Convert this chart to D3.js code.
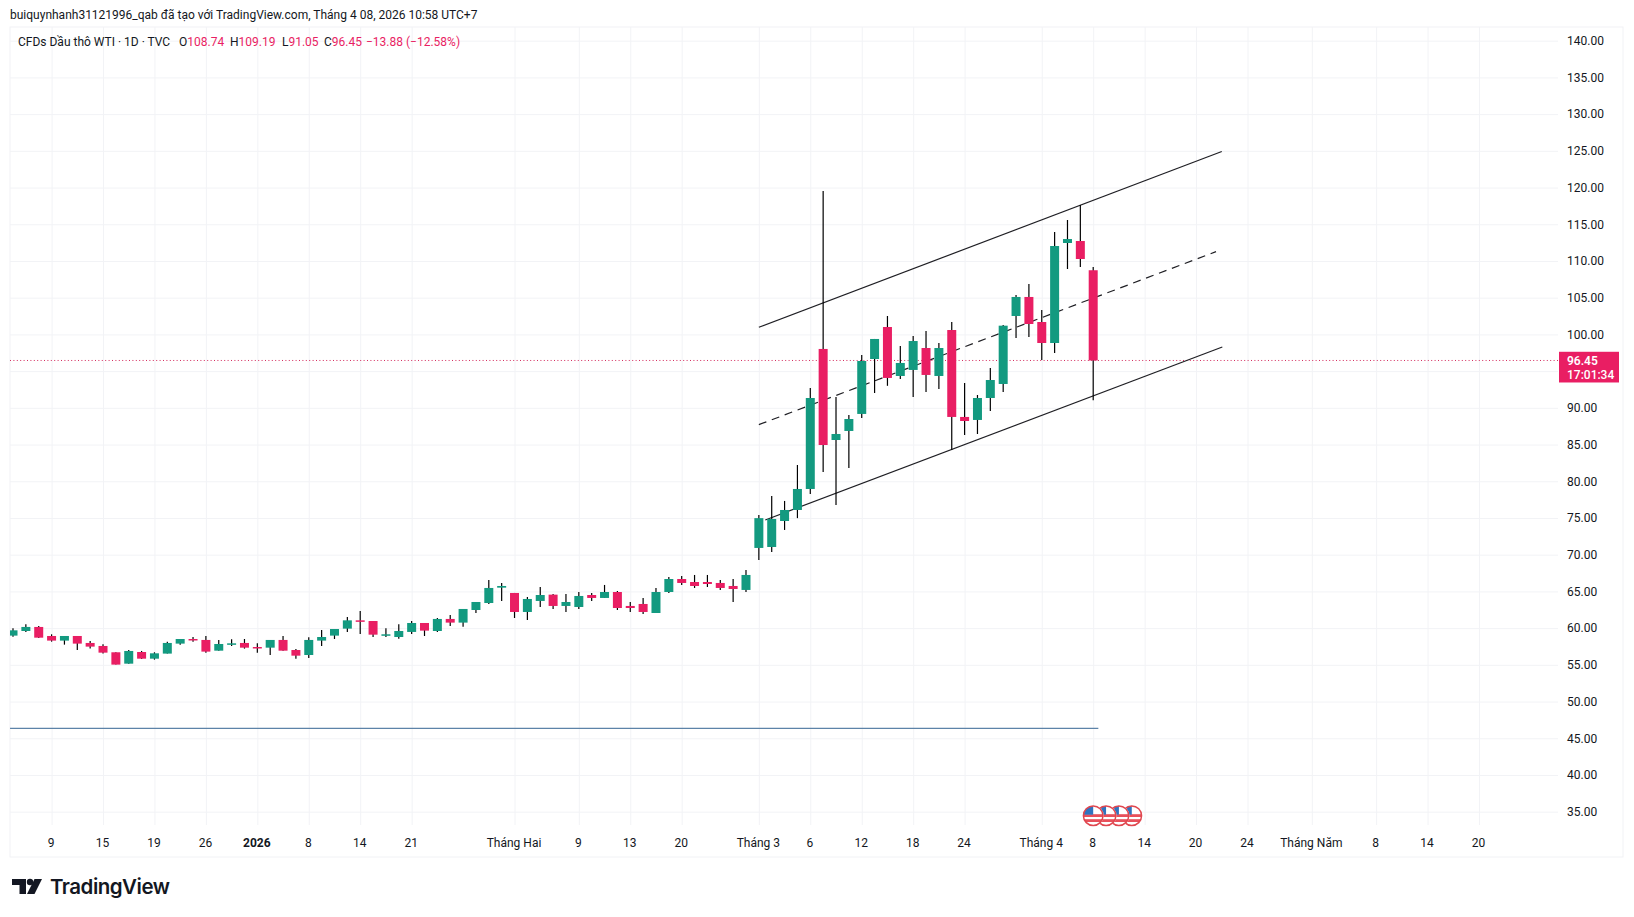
<!DOCTYPE html>
<html>
<head>
<meta charset="utf-8">
<script src="https://d3js.org/d3.v7.min.js"></script>
<style>
    html, body { margin: 0; padding: 0; background: #fff; }
    svg { display: block; font-family: Roboto, sans-serif; }
    .axis path, .axis line { display: none; }
    .axis text { fill: #131722; font-size: 12px; font-family: Roboto, sans-serif; }
    .grid path { display: none; }
    .grid text { display: none; }
    .grid line { stroke: #f2f3f6; stroke-width: 1; }
</style>
</head>
<body>
<div id="chart"></div>
<script>
// Daily candles, oldest first. Index 0 is the first visible bar.
const opens = [58.98, 59.61, 60.16, 58.93, 58.30, 58.93, 57.98, 57.57, 56.71, 55.16, 56.75, 55.84, 56.53, 57.89, 58.52, 58.39, 56.93, 57.84, 57.98, 57.43, 57.34, 58.39, 57.02, 56.34, 58.30, 58.98, 59.93, 61.06, 60.97, 59.07, 58.79, 59.48, 60.70, 59.61, 61.25, 60.75, 62.47, 63.42, 65.51, 64.79, 62.20, 63.70, 64.56, 63.02, 62.88, 64.51, 64.11, 64.92, 63.02, 63.29, 62.06, 64.92, 66.69, 66.28, 66.28, 66.15, 65.74, 65.20, 70.92, 71.05, 74.59, 76.09, 78.95, 98.02, 85.62, 86.85, 89.17, 96.65, 101.01, 94.34, 95.16, 98.15, 94.34, 100.60, 88.76, 88.35, 91.34, 93.25, 102.51, 105.10, 101.69, 98.83, 112.45, 112.72, 108.74];
const highs = [59.97, 60.52, 60.29, 59.16, 58.93, 58.93, 58.25, 57.80, 56.71, 57.02, 56.89, 56.71, 58.16, 58.52, 58.79, 58.93, 58.39, 58.48, 58.52, 57.93, 58.39, 58.93, 57.16, 58.75, 59.75, 59.88, 61.52, 62.34, 60.97, 59.97, 60.52, 60.97, 60.70, 61.38, 61.79, 62.61, 63.56, 66.56, 66.15, 64.79, 64.24, 65.60, 64.65, 64.65, 64.92, 64.79, 65.88, 65.06, 63.56, 64.11, 65.47, 66.97, 67.10, 67.24, 67.24, 66.56, 66.69, 67.92, 75.41, 78.00, 77.32, 82.22, 92.71, 119.53, 91.48, 89.03, 97.20, 99.38, 102.51, 98.42, 99.79, 100.47, 98.83, 101.69, 93.39, 91.75, 95.43, 101.28, 105.37, 106.87, 103.33, 113.95, 115.58, 117.62, 109.19];
const lows = [58.84, 59.48, 58.65, 58.16, 57.75, 57.02, 57.21, 56.53, 55.03, 55.16, 55.80, 55.71, 56.53, 57.75, 58.16, 56.66, 56.93, 57.57, 57.21, 56.66, 56.34, 56.93, 55.84, 55.94, 57.57, 58.52, 59.48, 59.20, 58.79, 58.79, 58.57, 59.20, 58.93, 59.48, 60.29, 60.20, 62.06, 63.29, 63.70, 61.38, 61.11, 62.88, 62.61, 62.20, 62.61, 63.70, 64.11, 62.47, 62.20, 61.93, 62.06, 64.79, 65.88, 65.47, 65.60, 65.20, 63.56, 64.92, 69.28, 70.37, 73.37, 74.98, 78.27, 81.27, 76.77, 81.81, 88.62, 92.02, 93.00, 93.93, 91.48, 92.16, 92.57, 84.26, 86.30, 86.44, 89.57, 92.16, 99.51, 99.65, 96.52, 97.47, 108.91, 109.18, 91.05];
const closes = [59.70, 60.16, 58.70, 58.30, 58.93, 57.89, 57.48, 56.66, 55.03, 56.89, 55.84, 56.57, 57.98, 58.52, 58.39, 56.80, 57.84, 57.93, 57.34, 57.34, 58.39, 56.93, 56.25, 58.39, 58.79, 59.88, 61.06, 60.97, 59.11, 59.16, 59.61, 60.70, 59.66, 61.25, 60.75, 62.61, 63.56, 65.47, 65.74, 62.20, 63.97, 64.51, 63.02, 63.56, 64.38, 64.11, 64.92, 62.74, 62.74, 62.20, 64.92, 66.69, 66.15, 65.74, 66.01, 65.47, 65.33, 67.24, 74.98, 74.87, 76.09, 78.95, 91.34, 84.94, 86.44, 88.48, 96.38, 99.38, 94.07, 96.11, 99.10, 94.48, 98.15, 88.76, 88.21, 91.34, 93.79, 101.19, 105.10, 101.42, 98.83, 112.04, 112.99, 110.27, 96.45];

// Axis ticks
const priceTicks = [35, 40, 45, 50, 55, 60, 65, 70, 75, 80, 85, 90, 95, 100, 105, 110, 115, 120, 125, 130, 135, 140];
const dateTickBars = [3, 7, 11, 15, 19, 23, 27, 31, 39, 44, 48, 52, 58, 62, 66, 70, 74, 80, 84, 88, 92, 96, 101, 106, 110, 114];
const dateTickLabels = ['9', '15', '19', '26', '2026', '8', '14', '21', 'Tháng Hai', '9', '13', '20', 'Tháng 3', '6', '12', '18', '24', 'Tháng 4', '8', '14', '20', '24', 'Tháng Năm', '8', '14', '20'];

// Drawings, as [bar, price] pairs
const channelUpper = [[58, 100.97], [94, 124.91]];
const channelMiddle = [[58, 87.71], [93.55, 111.27]];
const channelLower = [[58.5, 74.73], [94.04, 98.29]];
const supportLine = [[-0.23, 46.36], [84.4, 46.36]];

// Economic event flags sit on these bars
const eventBars = [84, 85, 86, 87];

// Header and legend text
const headerText = 'buiquynhanh31121996_qab đã tạo với TradingView.com, Tháng 4 08, 2026 10:58 UTC+7';
const symbolText = 'CFDs Dầu thô WTI · 1D · TVC';
const ohlcLetters = ['O', 'H', 'L', 'C'];
const ohlcValues = ['108.74', '109.19', '91.05', '96.45'];
const changeText = '−13.88 (−12.58%)';
const countdownText = '17:01:34';

class CandleChart {

    // Palette
    upColor = '#139a80';
    downColor = '#e91e63';
    textColor = '#131722';

    constructor(container) {
        this.width = 1634;
        this.height = 917;

        this.svg = d3.select(container).append('svg')
            .attr('width', this.width)
            .attr('height', this.height);

        // Bar index and price to pixels, bar 0 is at x = 13
        this.scaleX = d3.scaleLinear([0, 84], [13, 1093.2]);
        this.scaleY = d3.scaleLinear([35, 140], [811.7, 40.7]);

        this.frame = { left: 10, right: 1623, top: 27, bottom: 857, plotRight: 1558, gridBottom: 825 };
    }

    render() {
        this.#drawFrame();
        this.#drawGrid();
        this.#drawPriceLine();
        this.#drawDrawings();
        this.#drawCandles();
        this.#drawAxes();
        this.#drawFlags();
        this.#drawLegend();
        this.#drawLogo();
        return this;
    }

    #drawFrame() {
        const f = this.frame;
        this.svg.append('rect')
            .attr('x', f.left)
            .attr('y', f.top)
            .attr('width', f.right - f.left)
            .attr('height', f.bottom - f.top)
            .attr('fill', '#fff')
            .attr('stroke', '#f1f2f5');

        // Bars are cut off at the left edge of the pane
        const defs = this.svg.append('defs');
        defs.append('clipPath')
            .attr('id', 'pane-clip')
            .append('rect')
            .attr('x', f.left)
            .attr('y', f.top)
            .attr('width', f.plotRight - f.left)
            .attr('height', f.bottom - f.top);

        defs.append('clipPath')
            .attr('id', 'flag-clip')
            .append('circle')
            .attr('r', 10);
    }

    // Grid lines come from axes with full-length ticks
    #drawGrid() {
        const f = this.frame;
        this.svg.append('g')
            .attr('class', 'grid')
            .attr('transform', `translate(${f.left},0)`)
            .call(d3.axisRight(this.scaleY).tickValues(priceTicks).tickSize(f.plotRight - f.left));

        this.svg.append('g')
            .attr('class', 'grid')
            .attr('transform', `translate(0,${f.top})`)
            .call(d3.axisBottom(this.scaleX).tickValues(dateTickBars).tickSize(f.gridBottom - f.top));
    }

    #drawPriceLine() {
        const y = this.scaleY(closes[closes.length - 1]);
        this.svg.append('line')
            .attr('x1', this.frame.left)
            .attr('x2', this.frame.plotRight)
            .attr('y1', y)
            .attr('y2', y)
            .attr('stroke', '#d42a5c')
            .attr('stroke-width', 1)
            .attr('stroke-dasharray', '1 2.4');
    }

    // Trend channel and the long horizontal line
    #drawDrawings() {
        const line = d3.line()
            .x(d => this.scaleX(d[0]))
            .y(d => this.scaleY(d[1]));

        this.svg.append('path')
            .attr('d', line(supportLine))
            .attr('fill', 'none')
            .attr('stroke', '#5d83a8')
            .attr('stroke-width', 1.2);

        [channelUpper, channelLower, channelMiddle].forEach(points => {
            this.svg.append('path')
                .attr('d', line(points))
                .attr('fill', 'none')
                .attr('stroke', '#1f1f24')
                .attr('stroke-width', 1.2)
                .attr('stroke-dasharray', points === channelMiddle ? '8 5.8' : null);
        });
    }

    #drawCandles() {
        const candles = d3.range(opens.length).map(i => ({
            i, open: opens[i], high: highs[i], low: lows[i], close: closes[i]
        }));
        const bodyWidth = 9;
        const colorOf = d => d.close >= d.open ? this.upColor : this.downColor;

        const g = this.svg.append('g')
            .attr('clip-path', 'url(#pane-clip)')
            .selectAll('g')
            .data(candles)
            .join('g');

        g.append('line')
            .attr('x1', d => this.scaleX(d.i))
            .attr('x2', d => this.scaleX(d.i))
            .attr('y1', d => this.scaleY(d.high))
            .attr('y2', d => this.scaleY(d.low))
            .attr('stroke', '#000')
            .attr('stroke-width', 1.2);

        g.append('rect')
            .attr('x', d => this.scaleX(d.i) - bodyWidth / 2)
            .attr('y', d => this.scaleY(Math.max(d.open, d.close)))
            .attr('width', bodyWidth)
            .attr('height', d => Math.max(1.5, Math.abs(this.scaleY(d.open) - this.scaleY(d.close))))
            .attr('fill', colorOf);
    }

    #drawAxes() {
        const axisY = d3.axisRight(this.scaleY)
            .tickValues(priceTicks.filter(p => p !== 95))
            .tickFormat(d3.format('.2f'));

        this.svg.append('g')
            .attr('class', 'axis')
            .attr('transform', 'translate(1567,0)')
            .call(axisY)
            .call(g => g.selectAll('text').attr('x', 0));

        const axisX = d3.axisBottom(this.scaleX)
            .tickValues(dateTickBars)
            .tickFormat(d => dateTickLabels[dateTickBars.indexOf(d)]);

        this.svg.append('g')
            .attr('class', 'axis')
            .attr('transform', 'translate(-1,838)')
            .call(axisX)
            .call(g => g.selectAll('text').attr('y', 0)
                .style('font-weight', d => dateTickLabels[dateTickBars.indexOf(d)] === '2026' ? 700 : 400));

        // Last price tag on the scale
        const tagY = this.scaleY(closes[closes.length - 1]);
        this.svg.append('rect')
            .attr('x', 1559)
            .attr('y', tagY - 8.7)
            .attr('width', 60)
            .attr('height', 30.7)
            .attr('fill', this.downColor);

        this.svg.append('text')
            .attr('x', 1567)
            .attr('y', tagY + 5)
            .attr('fill', '#fff')
            .attr('font-size', 12)
            .attr('font-weight', 600)
            .text(d3.format('.2f')(closes[closes.length - 1]));

        this.svg.append('text')
            .attr('x', 1567)
            .attr('y', tagY + 19)
            .attr('fill', '#fff')
            .attr('font-size', 12)
            .attr('font-weight', 500)
            .text(countdownText);
    }

    // Round US flag markers, the first one stays on top
    #drawFlags() {
        const y = 815.7, r = 10.5;
        const flags = this.svg.append('g').selectAll('g')
            .data(eventBars.slice().reverse())
            .join('g')
            .attr('transform', d => `translate(${this.scaleX(d)},${y})`);

        flags.append('circle').attr('r', r).attr('fill', '#fff');

        const inner = flags.append('g').attr('clip-path', 'url(#flag-clip)');

        [-1.5, 3.5].forEach(dy => {
            inner.append('rect')
                .attr('x', -10)
                .attr('y', dy)
                .attr('width', 20)
                .attr('height', 2.8)
                .attr('fill', '#e8505b');
        });

        inner.append('rect')
            .attr('x', -10)
            .attr('y', -10)
            .attr('width', 10)
            .attr('height', 9)
            .attr('fill', '#2f74c0');

        flags.append('circle')
            .attr('r', r - 0.7)
            .attr('fill', 'none')
            .attr('stroke', '#e0474f')
            .attr('stroke-width', 1.5);
    }

    #drawLegend() {
        this.svg.append('text')
            .attr('x', 10)
            .attr('y', 19)
            .attr('fill', this.textColor)
            .attr('font-size', 12)
            .text(headerText);

        this.svg.append('text')
            .attr('x', 18)
            .attr('y', 46)
            .attr('fill', this.textColor)
            .attr('font-size', 12)
            .text(symbolText);

        const xs = [179, 230, 282, 324];
        ohlcLetters.forEach((letter, i) => {
            const t = this.svg.append('text')
                .attr('x', xs[i])
                .attr('y', 46)
                .attr('font-size', 12)
                .attr('fill', this.textColor)
                .text(letter);
            t.append('tspan').attr('fill', this.downColor).text(ohlcValues[i]);
        });

        this.svg.append('text')
            .attr('x', 366)
            .attr('y', 46)
            .attr('font-size', 12)
            .attr('fill', this.downColor)
            .text(changeText);
    }

    #drawLogo() {
        const logo = this.svg.append('g').attr('fill', '#131722');

        logo.append('path').attr('d', 'M12 879H26V894H19.5V885H12Z');
        logo.append('circle').attr('cx', 30).attr('cy', 882).attr('r', 3.2);
        logo.append('path').attr('d', 'M34.5 879H42L34.5 894H27Z');

        logo.append('text')
            .attr('x', 50)
            .attr('y', 894)
            .attr('font-family', 'Inter, sans-serif')
            .attr('font-size', 20.5)
            .attr('font-weight', 600)
            .attr('letter-spacing', -0.5)
            .text('TradingView');
    }
}

new CandleChart('#chart').render();
</script>
</body>
</html>
